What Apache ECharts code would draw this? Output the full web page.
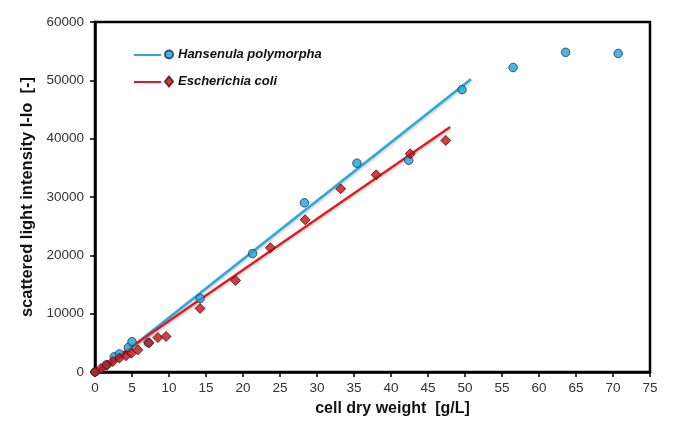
<!DOCTYPE html>
<html>
<head>
<meta charset="utf-8">
<script src="https://cdn.jsdelivr.net/npm/echarts@6/dist/echarts.min.js"></script>
<style>html,body{margin:0;padding:0;background:#fff}#c{width:685px;height:437px}</style>
</head>
<body>
<div id="c"></div>
<script>
// Hansenula polymorpha measurements
var hansX = [0, 1.5, 2.6, 3.3, 4.5, 5.0, 7.2, 14.2, 21.3, 28.3, 35.4, 42.4, 49.6, 56.5, 63.6, 70.7];
var hansY = [0, 1200, 2600, 3100, 4200, 5200, 5000, 12600, 20300, 29000, 35800, 36300, 48400, 52200, 54800, 54600];
// Escherichia coli measurements
var coliX = [0, 0.8, 1.6, 2.4, 3.3, 4.2, 4.9, 5.8, 7.3, 8.5, 9.6, 14.2, 19.0, 23.7, 28.4, 33.2, 38.0, 42.6, 47.4];
var coliY = [0, 600, 1200, 1800, 2400, 2800, 3200, 3800, 5000, 5900, 6100, 10900, 15700, 21300, 26100, 31400, 33800, 37400, 39700];
// linear fit lines (end points)
var hansFitX = [0.7, 50.8];
var hansFitY = [0, 50200];
var coliFitX = [0, 48.0];
var coliFitY = [0, 42000];
var xTicks = [0, 5, 10, 15, 20, 25, 30, 35, 40, 45, 50, 55, 60, 65, 70, 75];
var yTicks = [0, 10000, 20000, 30000, 40000, 50000, 60000];
var names = ['Hansenula polymorpha', 'Escherichia coli'];

function pairs(xs, ys) { return xs.map(function (x, i) { return [x, ys[i]]; }); }

var font = '"Liberation Sans", Arial, sans-serif';
var chart = echarts.init(document.getElementById('c'), null, { renderer: 'canvas' });
chart.setOption({
  animation: false,
  backgroundColor: '#fff',
  grid: { left: 95, right: 35, top: 22, bottom: 65, show: true, borderColor: '#000', borderWidth: 2.5, containLabel: false },
  legend: [
    {
      data: [names[0] + ' ', names[1] + ' '],
      orient: 'vertical', left: 133, top: 50, padding: 0, itemWidth: 27, itemHeight: 10, itemGap: 18,
      formatter: function () { return ''; },
      itemStyle: { color: 'rgba(0,0,0,0)', borderColor: 'rgba(0,0,0,0)', opacity: 0 },
      selectedMode: false
    },
    {
      data: names,
      orient: 'vertical', left: 164, top: 48, padding: 0, itemWidth: 8, itemHeight: 10, itemGap: 14,
      textStyle: { fontFamily: font, fontSize: 13, fontWeight: 'bold', fontStyle: 'italic', color: '#111' },
      selectedMode: false
    }
  ],
  xAxis: {
    type: 'value', min: 0, max: 75, interval: 5,
    name: 'cell dry weight  [g/L]', nameLocation: 'middle', nameGap: 29,
    nameTextStyle: { fontFamily: font, fontSize: 16, fontWeight: 'bold', color: '#111', padding: [0, 0, 0, 40] },
    axisLine: { show: true, lineStyle: { color: '#000', width: 2.5 } },
    axisTick: { show: true, length: 5, lineStyle: { color: '#000', width: 1.5 } },
    axisLabel: { fontFamily: font, fontSize: 13.5, color: '#333', margin: 9,
      formatter: function (v) { return xTicks.indexOf(v) >= 0 ? String(v) : ''; } },
    splitLine: { show: false }
  },
  yAxis: {
    type: 'value', min: 0, max: 60000, interval: 10000,
    name: 'scattered light intensity I-Io  [-]', nameLocation: 'middle', nameGap: 59,
    nameTextStyle: { fontFamily: font, fontSize: 16.5, fontWeight: 'bold', color: '#111' },
    axisLine: { show: true, lineStyle: { color: '#000', width: 2.5 } },
    axisTick: { show: true, length: 5, lineStyle: { color: '#000', width: 1.5 } },
    axisLabel: { fontFamily: font, fontSize: 13.5, color: '#333', margin: 11,
      formatter: function (v) { return yTicks.indexOf(v) >= 0 ? String(v) : ''; } },
    splitLine: { show: false }
  },
  series: [
    {
      name: names[0] + ' ', type: 'line', data: pairs(hansFitX, hansFitY), symbol: 'none',
      lineStyle: { color: '#2aa8de', width: 2.5, shadowColor: 'rgba(0,0,0,0.25)', shadowBlur: 3, shadowOffsetY: 1.5 },
      itemStyle: { color: '#2aa8de' }, z: 2
    },
    {
      name: names[1] + ' ', type: 'line', data: pairs(coliFitX, coliFitY), symbol: 'none',
      lineStyle: { color: '#e3191e', width: 2.2, shadowColor: 'rgba(0,0,0,0.25)', shadowBlur: 3, shadowOffsetY: 1.5 },
      itemStyle: { color: '#e3191e' }, z: 2
    },
    {
      name: names[0], type: 'scatter', data: pairs(hansX, hansY), symbol: 'circle', symbolSize: 8.5,
      itemStyle: { color: '#1ba3da', borderColor: '#17384f', borderWidth: 1 }, z: 3
    },
    {
      name: names[1], type: 'scatter', data: pairs(coliX, coliY), symbol: 'diamond', symbolSize: 10,
      itemStyle: { color: '#c80f12', borderColor: '#4a0a0a', borderWidth: 1 }, z: 4
    }
  ]
});
</script>
</body>
</html>
